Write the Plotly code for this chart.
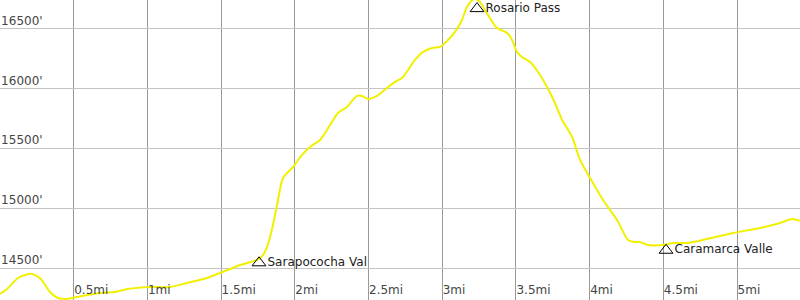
import plotly.graph_objects as go

# Elevation profile (distance in miles, elevation in feet)
dist_mi = [0.000, 0.047, 0.122, 0.170, 0.217, 0.271, 0.339, 0.393, 0.455, 0.522,
           0.678, 0.780, 0.868, 1.018, 1.153, 1.269, 1.404, 1.493, 1.628, 1.744,
           1.784, 1.811, 1.832, 1.859, 1.886, 1.920, 1.988, 2.049, 2.103, 2.171,
           2.239, 2.293, 2.354, 2.422, 2.456, 2.497, 2.558, 2.626, 2.680, 2.734,
           2.815, 2.870, 2.931, 2.985, 3.039, 3.087, 3.134, 3.168, 3.216, 3.250,
           3.290, 3.331, 3.372, 3.440, 3.474, 3.507, 3.541, 3.596, 3.650, 3.711,
           3.765, 3.813, 3.881, 3.935, 4.003, 4.091, 4.186, 4.261, 4.301, 4.342,
           4.396, 4.498, 4.566, 4.661, 4.796, 4.973, 5.156, 5.292, 5.373, 5.427]
elev_ft = [14284, 14326, 14418, 14443, 14452, 14418, 14301, 14251, 14243, 14259,
           14293, 14301, 14326, 14343, 14343, 14376, 14418, 14460, 14527, 14569,
           14610, 14677, 14761, 14903, 15070, 15254, 15346, 15447, 15513, 15572,
           15697, 15798, 15848, 15940, 15940, 15915, 15940, 16007, 16057, 16099,
           16241, 16308, 16341, 16350, 16408, 16475, 16575, 16684, 16751, 16734,
           16659, 16575, 16508, 16467, 16408, 16308, 16266, 16224, 16140, 16015,
           15881, 15739, 15597, 15405, 15254, 15070, 14903, 14736, 14719, 14719,
           14694, 14694, 14711, 14711, 14744, 14794, 14836, 14878, 14911, 14895]

# Waypoints
wp_names = ["Sarapococha Val", "Rosario Pass", "Caramarca Valle"]
wp_mi = [1.757, 3.236, 4.518]
wp_ft = [14545, 16670, 14650]

# Axis ticks
x_ticks = [0.5, 1.0, 1.5, 2.0, 2.5, 3.0, 3.5, 4.0, 4.5, 5.0]
x_labels = ["0.5mi", "1mi", "1.5mi", "2mi", "2.5mi", "3mi", "3.5mi", "4mi", "4.5mi", "5mi"]
y_ticks = [14500, 15000, 15500, 16000, 16500]
y_labels = ["14500'", "15000'", "15500'", "16000'", "16500'"]

fig = go.Figure()
fig.add_trace(go.Scatter(
    x=dist_mi, y=elev_ft, mode="lines",
    line=dict(color="#f0f000", width=2, shape="spline", smoothing=0.8),
    hoverinfo="skip", showlegend=False))
fig.add_trace(go.Scatter(
    x=wp_mi, y=wp_ft, mode="markers+text", text=wp_names,
    textposition="middle right",
    textfont=dict(family="DejaVu Sans", size=12, color="#222222"),
    marker=dict(symbol="triangle-up-open", size=12, color="#000000",
                line=dict(width=1, color="#000000")),
    showlegend=False, cliponaxis=False))

fig.update_layout(
    width=800, height=300,
    margin=dict(l=0, r=0, t=0, b=0),
    plot_bgcolor="white", paper_bgcolor="white",
    font=dict(family="DejaVu Sans", size=12, color="#222222"),
    xaxis=dict(range=[0, 5.427], tickvals=x_ticks, ticktext=x_labels,
               ticklabelposition="inside right", showgrid=True,
               gridcolor="#999999", gridwidth=1, zeroline=False,
               showline=True, linecolor="#999999", mirror=True, ticks=""),
    yaxis=dict(range=[14234, 16742], tickvals=y_ticks, ticktext=y_labels,
               ticklabelposition="inside top", showgrid=True,
               gridcolor="#c4c4c4", gridwidth=1, zeroline=False,
               showline=True, linecolor="#999999", mirror=True, ticks=""),
)

fig.write_html("out.html")
